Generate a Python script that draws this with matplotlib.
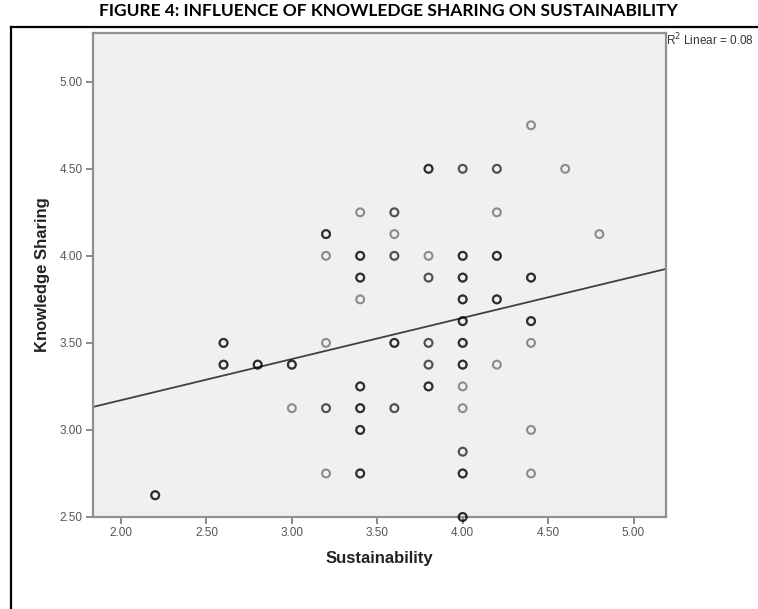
import matplotlib
matplotlib.use("Agg")
import matplotlib.pyplot as plt
import numpy as np
from matplotlib.lines import Line2D

# data (n = how many cases overlap at that spot, judged from ring darkness)
sustainability = [2.20, 2.60, 2.60, 2.80, 3.00, 3.00,
                  3.20, 3.20, 3.20, 3.20, 3.20,
                  3.40, 3.40, 3.40, 3.40, 3.40, 3.40, 3.40, 3.40, 3.40,
                  3.60, 3.60, 3.60, 3.60, 3.60,
                  3.80, 3.80, 3.80, 3.80, 3.80, 3.80, 3.80,
                  4.00, 4.00, 4.00, 4.00, 4.00, 4.00, 4.00, 4.00, 4.00, 4.00, 4.00, 4.00, 4.00, 4.00,
                  4.20, 4.20, 4.20, 4.20, 4.20,
                  4.40, 4.40, 4.40, 4.40, 4.40, 4.40, 4.40,
                  4.60, 4.80]
knowledge = [2.625, 3.50, 3.375, 3.375, 3.375, 3.125,
             4.125, 4.00, 3.50, 3.125, 2.75,
             4.25, 4.00, 3.875, 3.75, 3.25, 3.125, 3.00, 2.75, 3.375,
             4.25, 4.125, 4.00, 3.50, 3.125,
             4.50, 4.00, 3.875, 3.50, 3.375, 3.25, 3.75,
             4.50, 4.00, 3.875, 3.75, 3.625, 3.50, 3.375, 3.25, 3.125, 2.875, 2.75, 2.50, 4.25, 3.00,
             4.50, 4.25, 4.00, 3.75, 3.375,
             4.75, 3.875, 3.625, 3.50, 3.00, 2.75, 4.125,
             4.50, 4.125]
n_cases = [3, 3, 3, 3, 3, 1,
           3, 1, 1, 2, 1,
           1, 3, 3, 1, 3, 3, 3, 3, 0,
           2, 1, 2, 3, 2,
           3, 1, 2, 2, 2, 3, 0,
           2, 3, 3, 3, 3, 3, 3, 1, 1, 2, 3, 3, 0, 0,
           2, 1, 3, 3, 1,
           1, 3, 3, 1, 1, 1, 0,
           1, 1]

# fit line as drawn (R2 linear = 0.08)
fit_intercept = 2.698
fit_slope = 0.2364
r2_text = "R$^2$ Linear = 0.08"

x_ticks = [2.0, 2.5, 3.0, 3.5, 4.0, 4.5, 5.0]
y_ticks = [2.5, 3.0, 3.5, 4.0, 4.5, 5.0]

fig = plt.figure(figsize=(7.58, 6.09), dpi=100)
ax = fig.add_axes([0.1227, 0.1511, 0.7559, 0.7947])
ax.set_facecolor("#f0f0f0")

xs = np.repeat(sustainability, n_cases)
ys = np.repeat(knowledge, n_cases)
ax.scatter(xs, ys, s=32, facecolors="none", edgecolors="black",
           linewidths=1.5, alpha=0.42, zorder=3, clip_on=False)

ax.set_xlim(1.836, 5.19)
ax.set_ylim(2.5, 5.28)
lx = np.array(ax.get_xlim())
ax.plot(lx, fit_intercept + fit_slope * lx, color="#404040", lw=1.3, zorder=2)

ax.set_xticks(x_ticks)
ax.set_yticks(y_ticks)
ax.set_xticklabels([f"{v:.2f}" for v in x_ticks])
ax.set_yticklabels([f"{v:.2f}" for v in y_ticks])
ax.tick_params(direction="out", length=5, width=1.3, color="#808080",
               labelsize=8.5, labelcolor="#555555", pad=2.5)
for lab in ax.get_xticklabels() + ax.get_yticklabels():
    lab.set_family("Liberation Sans")
for sp in ax.spines.values():
    sp.set_color("#909090")
    sp.set_linewidth(1.6)

ax.set_xlabel("Sustainability", fontsize=12, fontweight="bold",
              family="Liberation Sans", color="#222222", labelpad=8)
ax.set_ylabel("Knowledge Sharing", fontsize=12, fontweight="bold",
              family="Liberation Sans", color="#222222", labelpad=7)

fig.text(0.513, 0.982, "FIGURE 4: INFLUENCE OF KNOWLEDGE SHARING ON SUSTAINABILITY",
         ha="center", va="center", fontsize=12.5, fontweight="bold", family="Lato")
fig.text(0.879, 0.934, r2_text, fontsize=8.5, family="Liberation Sans",
         color="#333333", va="center")

# outer frame of the pasted SPSS chart
fig.add_artist(Line2D([0.0145, 0.0145], [0.0, 0.9557], transform=fig.transFigure,
                      color="black", lw=1.6))
fig.add_artist(Line2D([0.0145, 1.0], [0.9557, 0.9557], transform=fig.transFigure,
                      color="black", lw=1.6))

fig.savefig("out.png", dpi=100)
